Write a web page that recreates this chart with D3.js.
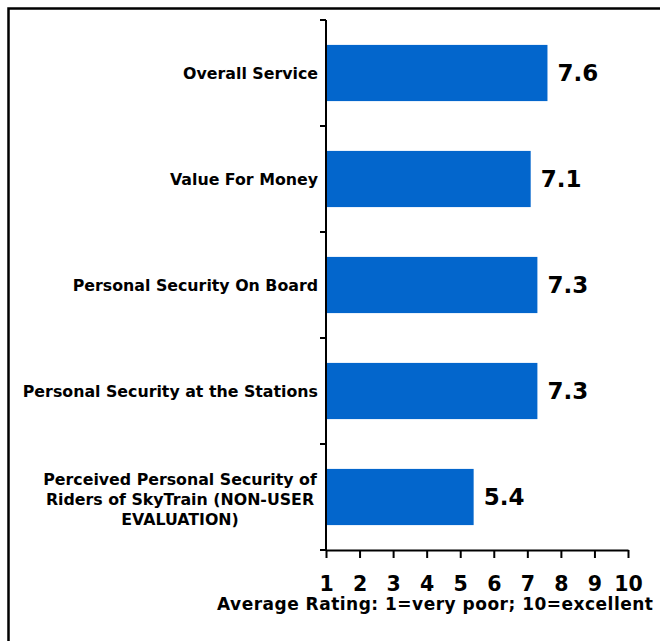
<!DOCTYPE html>
<html>
<head>
<meta charset="utf-8">
<script src="https://cdn.jsdelivr.net/npm/d3@7"></script>
<style>
  html, body { margin: 0; padding: 0; background: #fff; }
  svg { display: block; }
  text { font-family: "DejaVu Sans", Verdana, sans-serif; font-weight: bold; fill: #000; }
</style>
</head>
<body>
<svg id="chart" width="660" height="641"></svg>
<script>
const categories = [
  "Overall Service",
  "Value For Money",
  "Personal Security On Board",
  "Personal Security at the Stations",
  "Perceived Personal Security of Riders of SkyTrain (NON-USER EVALUATION)"
];
const categoryLines = [
  ["Overall Service"],
  ["Value For Money"],
  ["Personal Security On Board"],
  ["Personal Security at the Stations"],
  ["Perceived Personal Security of", "Riders of SkyTrain (NON-USER", "EVALUATION)"]
];
const values = [7.6, 7.1, 7.3, 7.3, 5.4];
const xTicks = [1, 2, 3, 4, 5, 6, 7, 8, 9, 10];
const xTitle = "Average Rating: 1=very poor; 10=excellent";

const svg = d3.select("#chart");

// outer frame (right and bottom edges fall outside the picture)
svg.append("rect")
  .attr("x", 8.5).attr("y", 8.5)
  .attr("width", 700).attr("height", 700)
  .attr("fill", "none").attr("stroke", "#000").attr("stroke-width", 2.5);

const x = d3.scaleLinear().domain([1, 10]).range([326, 628]);
const y = d3.scaleBand().domain(categories).range([20, 550])
  .paddingInner(0.47).paddingOuter(0.235);

// bars
svg.append("g").selectAll("rect")
  .data(categories)
  .join("rect")
  .attr("x", x(1))
  .attr("y", d => y(d))
  .attr("width", (d, i) => x(values[i]) - x(1))
  .attr("height", y.bandwidth())
  .attr("fill", "#0366cc");

// value labels
svg.append("g").selectAll("text")
  .data(categories)
  .join("text")
  .attr("x", (d, i) => x(values[i]) + 10)
  .attr("y", d => y(d) + y.bandwidth() / 2)
  .attr("dy", "0.36em")
  .attr("font-size", 23)
  .text((d, i) => values[i].toFixed(1));

// category labels
const lineH = 20;
const labelG = svg.append("g");
categories.forEach((c, i) => {
  const lines = categoryLines[i];
  const cy = y(c) + y.bandwidth() / 2 + (lines.length > 1 ? 2 : 0);
  const t = labelG.append("text")
    .attr("font-size", 15.8)
    .attr("text-anchor", lines.length > 1 ? "middle" : "end");
  const tx = lines.length > 1 ? 180 : 318;
  lines.forEach((ln, j) => {
    t.append("tspan")
      .attr("x", tx)
      .attr("y", cy + (j - (lines.length - 1) / 2) * lineH)
      .attr("dy", "0.36em")
      .text(ln);
  });
});

// y axis: line with ticks at band boundaries
const step = y.step();
const bounds = categories.map(c => y(c) - step * y.paddingInner() / 2);
bounds.push(y(categories[categories.length - 1]) + y.bandwidth() + step * y.paddingInner() / 2);
const yAxis = svg.append("g").attr("stroke", "#000").attr("stroke-width", 2);
yAxis.append("line")
  .attr("x1", x(1)).attr("x2", x(1))
  .attr("y1", bounds[0]).attr("y2", bounds[bounds.length - 1]);
yAxis.selectAll("line.tick")
  .data(bounds)
  .join("line")
  .attr("class", "tick")
  .attr("x1", x(1) - 6).attr("x2", x(1))
  .attr("y1", d => d).attr("y2", d => d);

// x axis
const xAxisG = svg.append("g")
  .attr("transform", `translate(0,${bounds[bounds.length - 1]})`)
  .call(d3.axisBottom(x).tickValues(xTicks).tickSize(8).tickSizeOuter(0).tickPadding(18));
xAxisG.select(".domain").attr("stroke", "#000").attr("stroke-width", 2);
xAxisG.selectAll(".tick line").attr("stroke", "#000").attr("stroke-width", 2);
xAxisG.selectAll(".tick text")
  .attr("font-size", 20.5)
  .attr("font-family", "\"DejaVu Sans\", Verdana, sans-serif")
  .attr("font-weight", "bold")
  .attr("fill", "#000");

// x title
svg.append("text")
  .attr("x", 217)
  .attr("y", 610)
  .attr("text-anchor", "start")
  .attr("font-size", 17)
  .attr("textLength", 436)
  .attr("lengthAdjust", "spacing")
  .text(xTitle);
</script>
</body>
</html>
